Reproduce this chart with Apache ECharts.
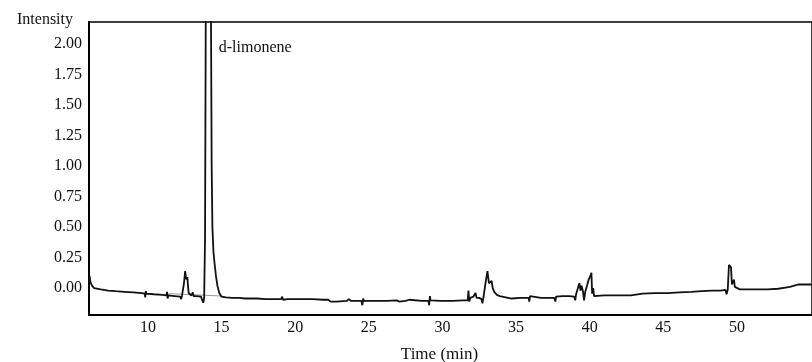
<!DOCTYPE html>
<html>
<head>
<meta charset="utf-8">
<script src="https://cdn.jsdelivr.net/npm/echarts@6/dist/echarts.min.js"></script>
<style>
  html, body { margin: 0; padding: 0; background: #fff; }
  #chart { width: 812px; height: 362px; }
</style>
</head>
<body>
<div id="chart"></div>
<script>
// retention time (min) / intensity
var chromatogram = [
    [6.0, 0.06], [6.04, 0.10], [6.1, 0.05], [6.2, 0.02], [6.35, 0.0], [6.8, -0.01],
    [7.3, -0.02], [7.8, -0.025], [8.4, -0.03], [9.0, -0.035], [9.6, -0.04],
    [9.78, -0.045], [9.82, -0.075], [9.86, -0.025], [9.9, -0.045], [10.4, -0.05],
    [11.0, -0.055], [11.25, -0.06], [11.3, -0.03], [11.34, -0.085], [11.38, -0.06],
    [11.8, -0.065], [12.2, -0.07], [12.26, -0.09], [12.32, -0.06], [12.45, 0.04],
    [12.53, 0.14], [12.58, 0.09], [12.63, 0.07], [12.68, 0.09], [12.72, 0.02],
    [12.77, -0.04], [12.85, -0.055], [12.95, -0.06], [13.05, -0.035], [13.1, -0.065],
    [13.3, -0.065], [13.6, -0.07], [13.7, -0.075], [13.76, -0.12], [13.82, -0.08],
    [13.88, 0.4], [13.94, 2.6], [14.1, 3.4], [14.27, 2.6], [14.33, 1.0], [14.38, 0.5],
    [14.45, 0.3], [14.53, 0.2], [14.62, 0.1], [14.72, 0.02], [14.85, -0.04],
    [15.0, -0.07], [15.3, -0.075], [15.7, -0.08], [16.2, -0.08], [16.6, -0.085],
    [16.7, -0.07], [16.8, -0.085], [17.4, -0.085], [18.0, -0.09], [18.3, -0.09],
    [18.4, -0.075], [18.5, -0.09], [19.05, -0.09], [19.12, -0.07], [19.18, -0.095],
    [19.5, -0.09], [19.56, -0.075], [19.62, -0.095], [20.3, -0.09], [21.2, -0.09],
    [21.9, -0.095], [22.25, -0.095], [22.4, -0.11], [22.8, -0.11], [23.5, -0.105],
    [23.65, -0.09], [23.8, -0.105], [24.5, -0.105], [24.56, -0.14], [24.62, -0.085],
    [24.68, -0.105], [25.4, -0.105], [26.2, -0.105], [26.9, -0.1], [27.05, -0.11],
    [27.15, -0.095], [27.5, -0.105], [27.75, -0.095], [27.85, -0.105], [28.6, -0.105],
    [29.05, -0.105], [29.1, -0.14], [29.15, -0.065], [29.2, -0.1], [29.9, -0.105],
    [30.7, -0.105], [31.4, -0.1], [31.72, -0.1], [31.77, -0.02], [31.82, -0.11],
    [31.9, -0.08], [32.1, -0.07], [32.25, -0.04], [32.32, -0.08], [32.5, -0.08],
    [32.65, -0.09], [32.72, -0.125], [32.82, -0.05], [32.95, 0.06], [33.06, 0.14],
    [33.16, 0.04], [33.26, 0.03], [33.34, 0.06], [33.42, 0.0], [33.52, -0.03],
    [33.7, -0.055], [33.9, -0.065], [34.3, -0.075], [34.7, -0.085], [35.3, -0.08],
    [35.85, -0.08], [35.9, -0.11], [35.95, -0.065], [36.0, -0.08], [36.7, -0.08],
    [37.4, -0.08], [37.6, -0.08], [37.67, -0.11], [37.72, -0.07], [37.8, -0.075],
    [38.15, -0.065], [38.6, -0.065], [38.95, -0.07], [39.02, -0.1], [39.08, -0.05],
    [39.2, 0.0], [39.3, 0.04], [39.38, -0.02], [39.45, 0.02], [39.55, -0.03],
    [39.62, -0.1], [39.7, -0.03], [39.82, 0.02], [39.92, 0.065], [40.05, 0.1],
    [40.12, 0.125], [40.17, -0.045], [40.24, 0.0], [40.3, -0.065], [40.4, -0.06],
    [41.0, -0.06], [41.8, -0.06], [42.8, -0.06], [42.9, -0.045], [43.6, -0.045],
    [44.4, -0.04], [45.3, -0.04], [46.1, -0.035], [46.9, -0.03], [47.6, -0.025],
    [48.3, -0.02], [48.9, -0.02], [49.22, -0.015], [49.3, -0.05], [49.38, -0.01],
    [49.46, 0.19], [49.52, 0.2], [49.6, 0.17], [49.66, 0.03], [49.72, 0.02],
    [49.8, 0.07], [49.86, 0.01], [49.95, 0.0], [50.2, -0.01], [50.7, -0.01],
    [51.4, -0.01], [52.1, -0.01], [52.8, -0.005], [53.3, 0.005], [53.6, 0.01],
    [53.9, 0.02], [54.2, 0.03], [54.7, 0.03], [55.1, 0.03]
];

// grey integration baseline under the limonene peak
var integrationBase = [[11.4, -0.045], [15.1, -0.065]];

var xTicks = [10, 15, 20, 25, 30, 35, 40, 45, 50];
var yTicks = [0, 0.25, 0.5, 0.75, 1.0, 1.25, 1.5, 1.75, 2.0];

var peakLabel = { name: 'd-limonene', coord: [14.81, 1.97] };

var myChart = echarts.init(document.getElementById('chart'));
var font = '"Liberation Serif", "Times New Roman", serif';

var option = {
    backgroundColor: '#fff',
    animation: false,
    grid: {
        left: 89, right: 0, top: 22, bottom: 47,
        outerBoundsMode: 'none',
        containLabel: false,
        show: true,
        borderColor: '#000',
        borderWidth: 1.5
    },
    xAxis: {
        type: 'value',
        min: 6,
        max: 55.1,
        name: 'Time (min)',
        nameLocation: 'middle',
        nameGap: 31,
        nameTextStyle: { fontFamily: font, fontSize: 17, color: '#111', padding: [0, 22, 0, 0] },
        axisLine: { show: true, onZero: false, lineStyle: { color: '#000', width: 2 } },
        axisTick: { show: false },
        splitLine: { show: false },
        axisLabel: {
            customValues: xTicks,
            margin: 5,
            fontFamily: font, fontSize: 16, color: '#111'
        }
    },
    yAxis: {
        type: 'value',
        min: -0.22,
        max: 2.18,
        name: 'Intensity',
        nameLocation: 'end',
        nameGap: 2,
        nameTextStyle: {
            fontFamily: font, fontSize: 16, color: '#111',
            align: 'right', verticalAlign: 'middle', padding: [0, 16, 0, 0]
        },
        axisLine: { show: true, onZero: false, lineStyle: { color: '#000', width: 2 } },
        axisTick: { show: false },
        splitLine: { show: false },
        axisLabel: {
            customValues: yTicks,
            margin: 7,
            fontFamily: font, fontSize: 16, color: '#111',
            formatter: function (v) { return v.toFixed(2); }
        }
    },
    series: [{
        name: 'baseline',
        type: 'line',
        data: integrationBase,
        showSymbol: false,
        lineStyle: { color: '#9a9a9a', width: 1 },
        silent: true
    }, {
        name: 'TIC',
        type: 'line',
        data: chromatogram,
        showSymbol: false,
        clip: true,
        lineStyle: { color: '#111', width: 1.8 },
        markPoint: {
            symbol: 'circle',
            symbolSize: 0,
            data: [peakLabel],
            label: {
                show: true,
                position: 'right',
                distance: 0,
                formatter: '{b}',
                fontFamily: font, fontSize: 16, color: '#111'
            }
        }
    }]
};

myChart.setOption(option);
</script>
</body>
</html>
